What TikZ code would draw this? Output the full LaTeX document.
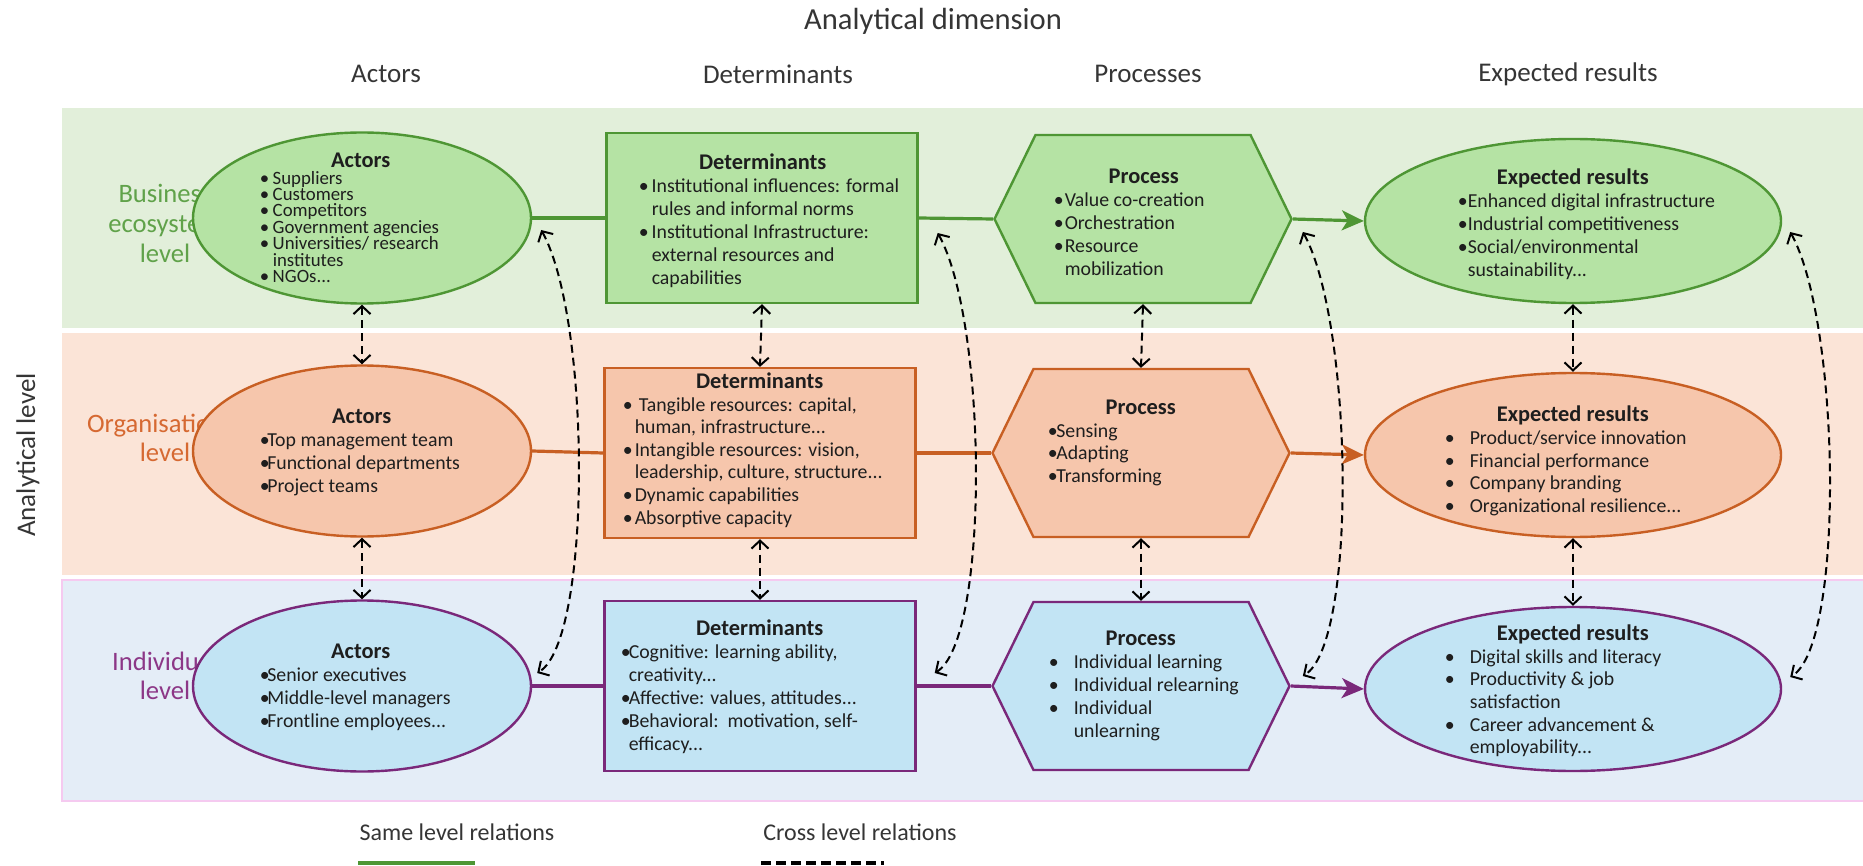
\documentclass[tikz,border=0pt]{standalone}
\usepackage{fontspec}
\setmainfont{Carlito}
\usetikzlibrary{shapes.geometric,shapes.symbols,arrows.meta,calc}

\definecolor{gband}{RGB}{226,239,218}
\definecolor{gfill}{RGB}{181,227,164}
\definecolor{gline}{RGB}{78,150,52}
\definecolor{glabel}{RGB}{96,162,74}
\definecolor{oband}{RGB}{251,228,215}
\definecolor{ofill}{RGB}{246,198,172}
\definecolor{oline}{RGB}{200,95,35}
\definecolor{olabel}{RGB}{214,105,50}
\definecolor{bband}{RGB}{228,237,247}
\definecolor{bborder}{RGB}{245,202,240}
\definecolor{bfill}{RGB}{194,228,244}
\definecolor{pline}{RGB}{122,40,122}
\definecolor{plabel}{RGB}{140,55,135}
\definecolor{ink}{RGB}{30,30,30}

% bullet, hanging indent, centred title and the text block of a shape
\newcommand{\bul}[1][6.5pt]{\makebox[#1][l]{\textbullet}}
\newcommand{\ind}[1][6.5pt]{\hspace*{#1}}
\newcommand{\boxtitle}[2]{\hspace*{#1}\makebox[0pt]{\fontsize{11.2}{11.5}\selectfont\bfseries #2}}
\newcommand{\txtblock}[2]{\vbox{\baselineskip=#1\lineskiplimit=-\maxdimen\halign{##\hfil\cr#2\crcr}}}

\tikzset{every picture/.style={line width=0.75pt}}
\tikzset{
  hdr/.style={text=ink!90, inner sep=0pt},
  colhdr/.style={hdr, font=\fontsize{13.5}{15}\selectfont},
  lvllab/.style={align=center, inner sep=0pt, font=\fontsize{13.3}{14.5}\selectfont},
  lvlG/.style={draw=gline, fill=gfill},
  lvlO/.style={draw=oline, fill=ofill},
  lvlB/.style={draw=pline, fill=bfill},
  shp/.style={line width=1.2pt, inner sep=0pt},
  actell/.style={shp, ellipse, minimum width=169pt, minimum height=85.5pt},
  resell/.style={shp, ellipse, minimum width=208pt, minimum height=82pt},
  detbox/.style={shp, rectangle, minimum width=155.5pt, minimum height=85pt},
  prochex/.style={shp, signal, signal to=west and east, signal pointer angle=128,
    minimum width=148.5pt, minimum height=84pt},
  txt/.style={anchor=west, inner sep=0pt, text=ink, font=\fontsize{9.9}{11.5}\selectfont},
  same/.style={line width=1.6pt},
  samearr/.style={same, -{Stealth[length=11pt,width=10pt,inset=3pt]}},
  cross/.style={line width=1pt, dash pattern=on 4pt off 2.5pt, <->,
    >={Straight Barb[length=4pt,width=8.5pt]}},
  legtxt/.style={hdr, font=\fontsize{12}{14}\selectfont}
}

\begin{document}
\begin{tikzpicture}[x=0.5pt,y=0.5pt,yscale=-1]
\useasboundingbox (0,0) rectangle (1863,866);

%Level bands
\fill[gband] (62,108) rectangle (1863,328);
\fill[oband] (62,333) rectangle (1863,575);
\filldraw[fill=bband, draw=bborder, line width=1pt] (62,580) rectangle (1875,801);

%Dimension and column headers
\node[hdr, font=\fontsize{15.3}{17}\selectfont] (dimT) at (933,21) {Analytical dimension};
\node[colhdr] (hAct) at (386,74) {Actors};
\node[colhdr] (hDet) at (778,74) {Determinants};
\node[colhdr] (hProc) at (1148,74) {Processes};
\node[colhdr] (hRes) at (1568,74) {Expected results};
\node[colhdr, rotate=90] (lvlT) at (28,455) {Analytical level};

%Level labels (partly hidden by the actors)
\node[lvllab, text=glabel, font=\fontsize{13.3}{15}\selectfont] (labG) at (165,223) {Business\\ecosystem\\level};
\node[lvllab, text=olabel] (labO) at (165,438) {Organisational\\level};
\node[lvllab, text=plabel] (labB) at (165,676) {Individual\\level};

%Business ecosystem level
\node[actell, lvlG] (actG) at (362,218) {};
\node[detbox, lvlG] (detG) at (762,218) {};
\node[prochex, lvlG] (procG) at (1143,219) {};
\node[resell, lvlG] (resG) at (1573,221) {};

%Organisational level
\node[actell, lvlO] (actO) at (362,451) {};
\node[detbox, lvlO] (detO) at (760,453) {};
\node[prochex, lvlO] (procO) at (1141,453) {};
\node[resell, lvlO] (resO) at (1573,455) {};

%Individual level
\node[actell, lvlB] (actB) at (362,686) {};
\node[detbox, lvlB] (detB) at (760,686) {};
\node[prochex, lvlB] (procB) at (1141,686) {};
\node[resell, lvlB] (resB) at (1573,689) {};

%Texts
\node[txt, font=\fontsize{9.4}{8.2}\selectfont] (actGt) at (259,218) {\txtblock{8.2pt}{\boxtitle{50.5pt}{Actors}\cr
  \bul Suppliers\cr \bul Customers\cr \bul Competitors\cr \bul Government agencies\cr
  \bul Universities/ research\cr \ind institutes\cr \bul NGOs...}};
\node[txt] (detGt) at (638,221) {\txtblock{11.5pt}{\boxtitle{62pt}{Determinants}\cr
  \bul Institutional influences: formal\cr \ind rules and informal norms\cr
  \bul Institutional Infrastructure:\cr \ind external resources and\cr \ind capabilities}};
\node[txt] (procGt) at (1053,222) {\txtblock{11.5pt}{\boxtitle{45pt}{Process}\cr
  \bul[5.5pt]Value co-creation\cr \bul[5.5pt]Orchestration\cr \bul[5.5pt]Resource\cr \ind[5.5pt]mobilization}};
\node[txt] (resGt) at (1457,224) {\txtblock{11.5pt}{\boxtitle{57.5pt}{Expected results}\cr
  \bul[5pt]Enhanced digital infrastructure\cr \bul[5pt]Industrial competitiveness\cr
  \bul[5pt]Social/environmental\cr \ind[5pt]sustainability...}};

\node[txt] (actOt) at (259,452) {\txtblock{11.5pt}{\boxtitle{51pt}{Actors}\cr
  \bul[3.8pt]Top management team\cr \bul[3.8pt]Functional departments\cr \bul[3.8pt]Project teams}};
\node[txt] (detOt) at (622,450) {\txtblock{11.3pt}{\boxtitle{68.5pt}{Determinants}\cr
  \bul[6pt]\hspace*{2pt}Tangible resources: capital,\cr \ind[6pt]human, infrastructure...\cr
  \bul[6pt]Intangible resources: vision,\cr \ind[6pt]leadership, culture, structure...\cr
  \bul[6pt]Dynamic capabilities\cr \bul[6pt]Absorptive capacity}};
\node[txt] (procOt) at (1047,443) {\txtblock{11.3pt}{\boxtitle{46.5pt}{Process}\cr
  \bul[4.3pt]Sensing\cr \bul[4.3pt]Adapting\cr \bul[4.3pt]Transforming}};
\node[txt] (resOt) at (1444,461) {\txtblock{11.3pt}{\boxtitle{64pt}{Expected results}\cr
  \bul[12.5pt]Product/service innovation\cr \bul[12.5pt]Financial performance\cr
  \bul[12.5pt]Company branding\cr \bul[12.5pt]Organizational resilience...}};

\node[txt] (actBt) at (259,687) {\txtblock{11.5pt}{\boxtitle{50.5pt}{Actors}\cr
  \bul[3.8pt]Senior executives\cr \bul[3.8pt]Middle-level managers\cr \bul[3.8pt]Frontline employees...}};
\node[txt] (detBt) at (620,687) {\txtblock{11.5pt}{\boxtitle{69.5pt}{Determinants}\cr
  \bul[4pt]Cognitive: learning ability,\cr \ind[4pt]creativity...\cr
  \bul[4pt]Affective: values, attitudes...\cr \bul[4pt]Behavioral:\ \ motivation, self-\cr
  \ind[4pt]efficacy...}};
\node[txt] (procBt) at (1048,686) {\txtblock{11.5pt}{\boxtitle{46pt}{Process}\cr
  \bul[12.5pt]Individual learning\cr \bul[12.5pt]Individual relearning\cr
  \bul[12.5pt]Individual\cr \ind[12.5pt]unlearning}};
\node[txt] (resBt) at (1444,691) {\txtblock{11.3pt}{\boxtitle{64pt}{Expected results}\cr
  \bul[12.5pt]Digital skills and literacy\cr \bul[12.5pt]Productivity \& job\cr
  \ind[12.5pt]satisfaction\cr \bul[12.5pt]Career advancement \&\cr \ind[12.5pt]employability...}};

%Same level relations
\draw[same, gline] (actG.east) -- (detG.west);
\draw[same, gline] (detG.east) -- (procG.west);
\draw[samearr, gline] (procG.east) -- (resG.west);
\draw[same, oline] (actO.east) -- (detO.west);
\draw[same, oline] (detO.east) -- (procO.west);
\draw[samearr, oline] (procO.east) -- (resO.west);
\draw[same, pline] (actB.east) -- (detB.west);
\draw[same, pline] (detB.east) -- (procB.west);
\draw[samearr, pline] (procB.east) -- (resB.west);

%Cross level relations, next level
\draw[cross] (actG.south) -- (actO.north);
\draw[cross] (actO.south) -- (actB.north);
\draw[cross] (detG.south) -- (detO.north);
\draw[cross] (detO.south) -- (detB.north);
\draw[cross] (procG.south) -- (procO.north);
\draw[cross] (procO.south) -- (procB.north);
\draw[cross] (resG.south) -- (resO.north);
\draw[cross] (resO.south) -- (resB.north);

%Cross level relations, ecosystem to individual
\draw[cross] ($(actG.east)+(9,12)$) .. controls +(50,90) and +(55,-33) .. ($(actB.east)+(5,-13)$);
\draw[cross] ($(detG.east)+(19,15)$) .. controls +(50,90) and +(55,-33) .. ($(detB.east)+(18,-13)$);
\draw[cross] ($(procG.east)+(10,13)$) .. controls +(50,90) and +(55,-33) .. ($(procB.east)+(12,-10)$);
\draw[cross] ($(resG.east)+(8,11)$) .. controls +(50,90) and +(55,-33) .. ($(resB.east)+(8,-12)$);

%Legend
\node[legtxt] (legSame) at (457,832) {Same level relations};
\node[legtxt] (legCross) at (860,832) {Cross level relations};
\coordinate (sameA) at (358,863);
\coordinate (sameB) at (475,863);
\coordinate (crossA) at (761,863);
\coordinate (crossB) at (884,863);
\draw[gline, line width=2pt] (sameA) -- (sameB);
\draw[black, line width=2pt, dash pattern=on 5pt off 2.5pt] (crossA) -- (crossB);

\end{tikzpicture}
\end{document}
